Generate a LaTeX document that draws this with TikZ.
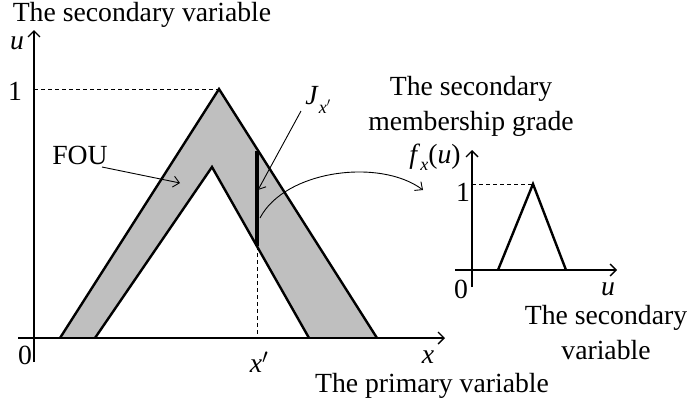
\documentclass[tikz,border=0pt]{standalone}
\usepackage{fontspec}
\setmainfont{Liberation Serif}
\usetikzlibrary{arrows.meta}
\begin{document}
\begin{tikzpicture}[x=1pt,y=-1pt,
  lbl/.style={inner sep=0pt,font=\fontsize{27.7}{35}\selectfont},
  axis/.style={line width=1.4pt,-{Straight Barb[length=6pt,width=12pt,line width=1.4pt]}},
  thin arrow/.style={line width=0.9pt,-{Straight Barb[length=6pt,width=11pt,line width=0.9pt]}},
  shape line/.style={line width=2.4pt,line join=miter},
  guide/.style={line width=0.9pt,dash pattern=on 4pt off 3pt}]
\useasboundingbox (0,0) rectangle (691,410);
% main plot coordinates
\coordinate (yb) at (34,362);
\coordinate (yt) at (34,30);
\coordinate (xl) at (18,338);
\coordinate (xr) at (445,338);
\coordinate (oL) at (60,338);
\coordinate (oT) at (219,89);
\coordinate (oR) at (377,338);
\coordinate (iL) at (95,338);
\coordinate (iT) at (212,167);
\coordinate (iR) at (309,338);
\coordinate (jt) at (257,151);
\coordinate (jb) at (257,246);
\coordinate (xp) at (257,338);
\coordinate (one) at (34,89);
% FOU fill
\fill[fill=black!25,even odd rule] (oL) -- (oT) -- (oR) -- cycle (iL) -- (iT) -- (iR) -- cycle;
\draw[guide] (one) -- (oT);
\draw[guide] (jb) -- (xp);
\draw[axis] (yb) -- (yt);
\draw[axis] (xl) -- (xr);
\draw[shape line] (oL) -- (oT) -- (oR);
\draw[shape line] (iL) -- (iT) -- (iR);
\draw[shape line] (oL) -- (oR);
\draw[line width=3.4pt] (jt) -- (jb);
% labels main
\node[lbl] (ttop) at (142,15) {The secondary variable};
\node[lbl] (ulab) at (17,43) {\textit{u}};
\node[lbl] (onelab) at (15,91) {1};
\node[lbl] (zero) at (25,355) {0};
\node[lbl] (xlab) at (428,357) {\textit{x}};
\node[lbl] (xplab) at (259,362) {\textit{x}$'$};
\node[lbl] (prim) at (432,386) {The primary variable};
\node[lbl] (fou) at (80,155) {FOU};
\node[lbl] (jlab) at (318,100) {\textit{J}\raisebox{-0.3em}{\fontsize{18}{18}\selectfont\textit{x}$'$}};
\coordinate (fouS) at (102,167);
\coordinate (fouE) at (180,183);
\draw[thin arrow] (fouS) -- (fouE);
\coordinate (jS) at (301,111);
\coordinate (jE) at (258,190);
\draw[thin arrow] (jS) -- (jE);
% curved arrow to small plot
\coordinate (cS) at (260,218);
\coordinate (cE) at (423,190);
\draw[thin arrow] (cS) .. controls (285,170) and (380,158) .. (cE);
% small plot
\coordinate (syb) at (472,287);
\coordinate (syt) at (472,150);
\coordinate (sxl) at (455,270);
\coordinate (sxr) at (617,270);
\coordinate (sL) at (498,270);
\coordinate (sT) at (533,184);
\coordinate (sR) at (566,270);
\coordinate (sone) at (472,184);
\draw[guide] (sone) -- (sT);
\draw[axis] (syb) -- (syt);
\draw[axis] (sxl) -- (sxr);
\draw[shape line] (sL) -- (sT) -- (sR);
\node[lbl,align=center] (smg) at (471,106) {The secondary\\membership grade};
\node[lbl] (fxu) at (435,157) {\textit{f}\raisebox{-0.25em}{\fontsize{18}{18}\selectfont\textit{x}}(\textit{u})};
\node[lbl] (sonelab) at (463,192) {1};
\node[lbl] (szero) at (461,289) {0};
\node[lbl] (sulab) at (608,289) {\textit{u}};
\node[lbl,align=center] (ssv) at (606,333) {The secondary\\variable};
\end{tikzpicture}
\end{document}
